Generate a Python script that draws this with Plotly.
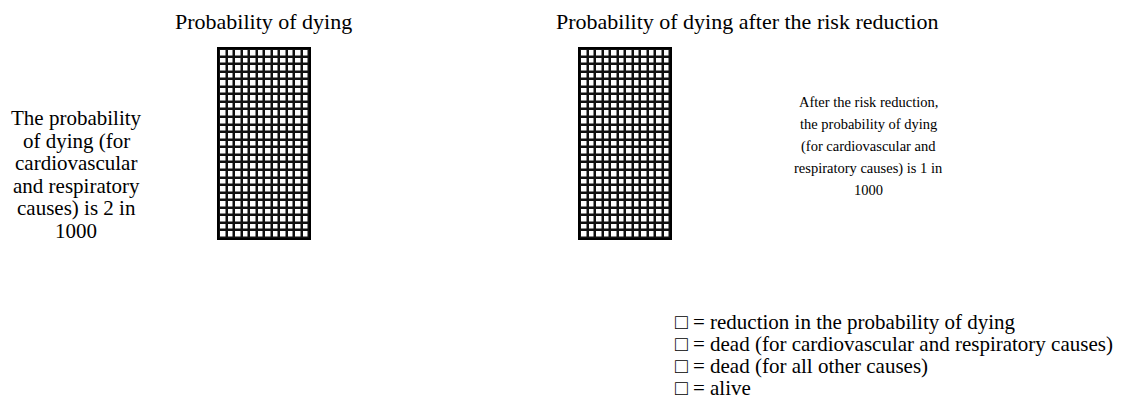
import plotly.graph_objects as go

# Data
n_rows = 25
n_cols = 12
# status codes: 0 = reduction, 1 = dead cardio/resp, 2 = dead other, 3 = alive
before_status = [[3] * n_cols for _ in range(n_rows)]
after_status = [[3] * n_cols for _ in range(n_rows)]
status_colors = ["#ffffff", "#ffffff", "#ffffff", "#ffffff"]

titles = ["Probability of dying", "Probability of dying after the risk reduction"]
left_lines = ["The probability", "of dying (for", "cardiovascular",
              "and respiratory", "causes) is 2 in", "1000"]
right_lines = ["After the risk reduction,", "the probability of dying",
               "(for cardiovascular and", "respiratory causes) is 1 in", "1000"]
legend_items = [
    "reduction in the probability of dying",
    "dead (for cardiovascular and respiratory causes)",
    "dead (for all other causes)",
    "alive",
]
bottom_text = "tions, compare the two squares, then click on the next button"

OFF = 8  # page body margin
W, H = 1125 - OFF, 400 - OFF
FONT = "Times New Roman, Liberation Serif, serif"


def px(x):
    return (x - OFF) / W


def py(y):
    return 1 - (y - OFF) / H


fig = go.Figure()

colorscale = [[i / 3, c] for i, c in enumerate(status_colors)]

grids = [(before_status, 219, 309), (after_status, 580, 670)]
for i, (z, x0, x1) in enumerate(grids):
    ax = "" if i == 0 else "2"
    fig.add_trace(go.Heatmap(
        z=z, zmin=0, zmax=3, colorscale=colorscale, showscale=False,
        xgap=2.5, ygap=2.5, hoverinfo="skip",
        xaxis="x" + ax, yaxis="y" + ax,
    ))
    fig.update_layout(**{
        "xaxis" + ax: dict(domain=[px(x0), px(x1)], visible=True, showticklabels=False,
                           showgrid=False, zeroline=False, ticks="",
                           showline=True, linecolor="black", linewidth=2, mirror=True,
                           range=[-0.5, n_cols - 0.5], anchor="y" + ax, fixedrange=True),
        "yaxis" + ax: dict(domain=[py(238), py(49)], visible=True, showticklabels=False,
                           showgrid=False, zeroline=False, ticks="",
                           showline=True, linecolor="black", linewidth=2, mirror=True,
                           range=[-0.5, n_rows - 0.5], anchor="x" + ax, fixedrange=True),
    })

annotations = []


def add_text(text, x, y, size, xanchor="center"):
    annotations.append(dict(text=text, x=px(x), y=py(y), xref="paper", yref="paper",
                            showarrow=False, font=dict(size=size, family=FONT, color="black"),
                            xanchor=xanchor, yanchor="middle"))


add_text(titles[0], 263, 22, 22)
add_text(titles[1], 747, 22, 22)
for k, line in enumerate(left_lines):
    add_text(line, 76, 118 + 22.6 * k, 21)
for k, line in enumerate(right_lines):
    add_text(line, 869, 102 + 22 * k, 14.5)
for k, item in enumerate(legend_items):
    add_text("\u25a1 = " + item, 673, 322 + 22 * k, 21, xanchor="left")
add_text(bottom_text, 0, 407, 21, xanchor="left")

fig.update_layout(
    width=W, height=H, margin=dict(l=0, r=0, t=0, b=0),
    paper_bgcolor="white", plot_bgcolor="#111111",
    annotations=annotations, showlegend=False,
)

fig.write_html("out.html")
